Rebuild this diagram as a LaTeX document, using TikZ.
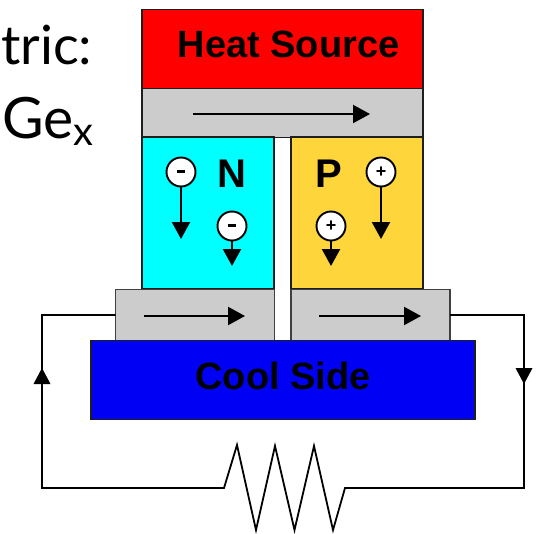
\documentclass[tikz,border=0pt]{standalone}
\usepackage{fontspec}
\setmainfont{Liberation Sans}
\newfontfamily\slidefont{Lato}
\usetikzlibrary{arrows.meta}
\definecolor{plate}{RGB}{204,204,204}
\definecolor{ptype}{RGB}{255,213,60}
\definecolor{edgecol}{RGB}{30,30,30}
\definecolor{ntype}{RGB}{0,255,255}
\definecolor{coolblue}{RGB}{0,0,245}
\definecolor{heatred}{RGB}{255,0,0}
\tikzset{
  slab/.style={draw=edgecol,line width=1.7pt,inner sep=0pt,outer sep=0pt},
  bigtext/.style={font=\bfseries\fontsize{38}{38}\selectfont,inner sep=0pt},
  plabel/.style={font=\bfseries\fontsize{40}{40}\selectfont,inner sep=0pt},
  carrier/.style={circle,draw=black,fill=white,line width=1.9pt,minimum size=29pt,inner sep=0pt,font=\bfseries\fontsize{18}{18}\selectfont},
  flow/.style={line width=2.2pt,-{Triangle[width=18pt,length=17pt]}},
  wire/.style={line width=1.8pt,line join=miter},
  slide/.style={font=\slidefont\fontsize{54}{54}\selectfont,inner sep=0pt,anchor=base east}
}
\begin{document}
\begin{tikzpicture}[x=1pt,y=-1pt]
\useasboundingbox (0,0) rectangle (537,533);
% slide text
\node[slide] (t1) at (92.5,64) {tric:};
\node[slide,font=\slidefont\fontsize{57}{57}\selectfont] (t2) at (94,138) {Ge\raisebox{-7pt}{\fontsize{40}{40}\selectfont x}};
% plates
\node[slab,fill=heatred,minimum width=281pt,minimum height=79pt] (heat) at (282.5,49) {};
\node[bigtext] (heattxt) at (288.5,44) {Heat Source};
\node[slab,fill=plate,minimum width=281pt,minimum height=49pt] (top) at (282.5,113) {};
\node[slab,fill=ntype,minimum width=132pt,minimum height=152pt] (nleg) at (208,213) {};
\node[slab,fill=ptype,minimum width=132pt,minimum height=152pt] (pleg) at (357,213) {};
\node[slab,fill=plate,draw=edgecol!85,line width=1.3pt,minimum width=159pt,minimum height=51pt] (lplate) at (195,315) {};
\node[slab,fill=plate,draw=edgecol!85,line width=1.3pt,minimum width=159pt,minimum height=51pt] (rplate) at (370.5,315) {};
\node[slab,fill=coolblue,minimum width=384pt,minimum height=79pt] (cool) at (283,380) {};
\node[bigtext] (cooltxt) at (283,376) {Cool Side};
% labels
\node[plabel] (nlab) at (232,174) {N};
\node[plabel] (plab) at (329,174) {P};
% carriers
\node[carrier] (e1) at (181,172) {\raisebox{1pt}{\rule{8pt}{2.2pt}}};
\node[carrier] (e2) at (232,226) {\raisebox{1pt}{\rule{8pt}{2.2pt}}};
\node[carrier] (h1) at (381,172) {+};
\node[carrier] (h2) at (331,226) {+};
\coordinate (e1e) at (181,239);
\coordinate (e2e) at (232,266);
\coordinate (h1e) at (381,239);
\coordinate (h2e) at (331,266);
\draw[flow] (e1) -- (e1e);
\draw[flow] (e2) -- (e2e);
\draw[flow] (h1) -- (h1e);
\draw[flow] (h2) -- (h2e);
% current arrows in plates
\coordinate (a1s) at (193,114); \coordinate (a1e) at (370,114);
\coordinate (a2s) at (144,316); \coordinate (a2e) at (245,316);
\coordinate (a3s) at (319,316); \coordinate (a3e) at (421,316);
\draw[flow] (a1s) -- (a1e);
\draw[flow] (a2s) -- (a2e);
\draw[flow] (a3s) -- (a3e);
% circuit
\coordinate (lc1) at (42,315);
\coordinate (lc2) at (42,488);
\coordinate (la) at (42,368);
\coordinate (rc1) at (524,315);
\coordinate (rc2) at (524,488);
\coordinate (ra) at (524,384);
\draw[wire] (lplate.west |- lc1) -- (lc1) -- (lc2) -- (224,488)
  -- (237,445) -- (256,530) -- (275,446) -- (294.5,530) -- (314,446) -- (333,530) -- (345,488)
  -- (rc2) -- (rc1) -- (rplate.east |- rc1);
\fill (la) -- ++(8.5,16) -- ++(-17,0) -- cycle;
\fill (ra) -- ++(8.5,-16) -- ++(-17,0) -- cycle;
\end{tikzpicture}
\end{document}
